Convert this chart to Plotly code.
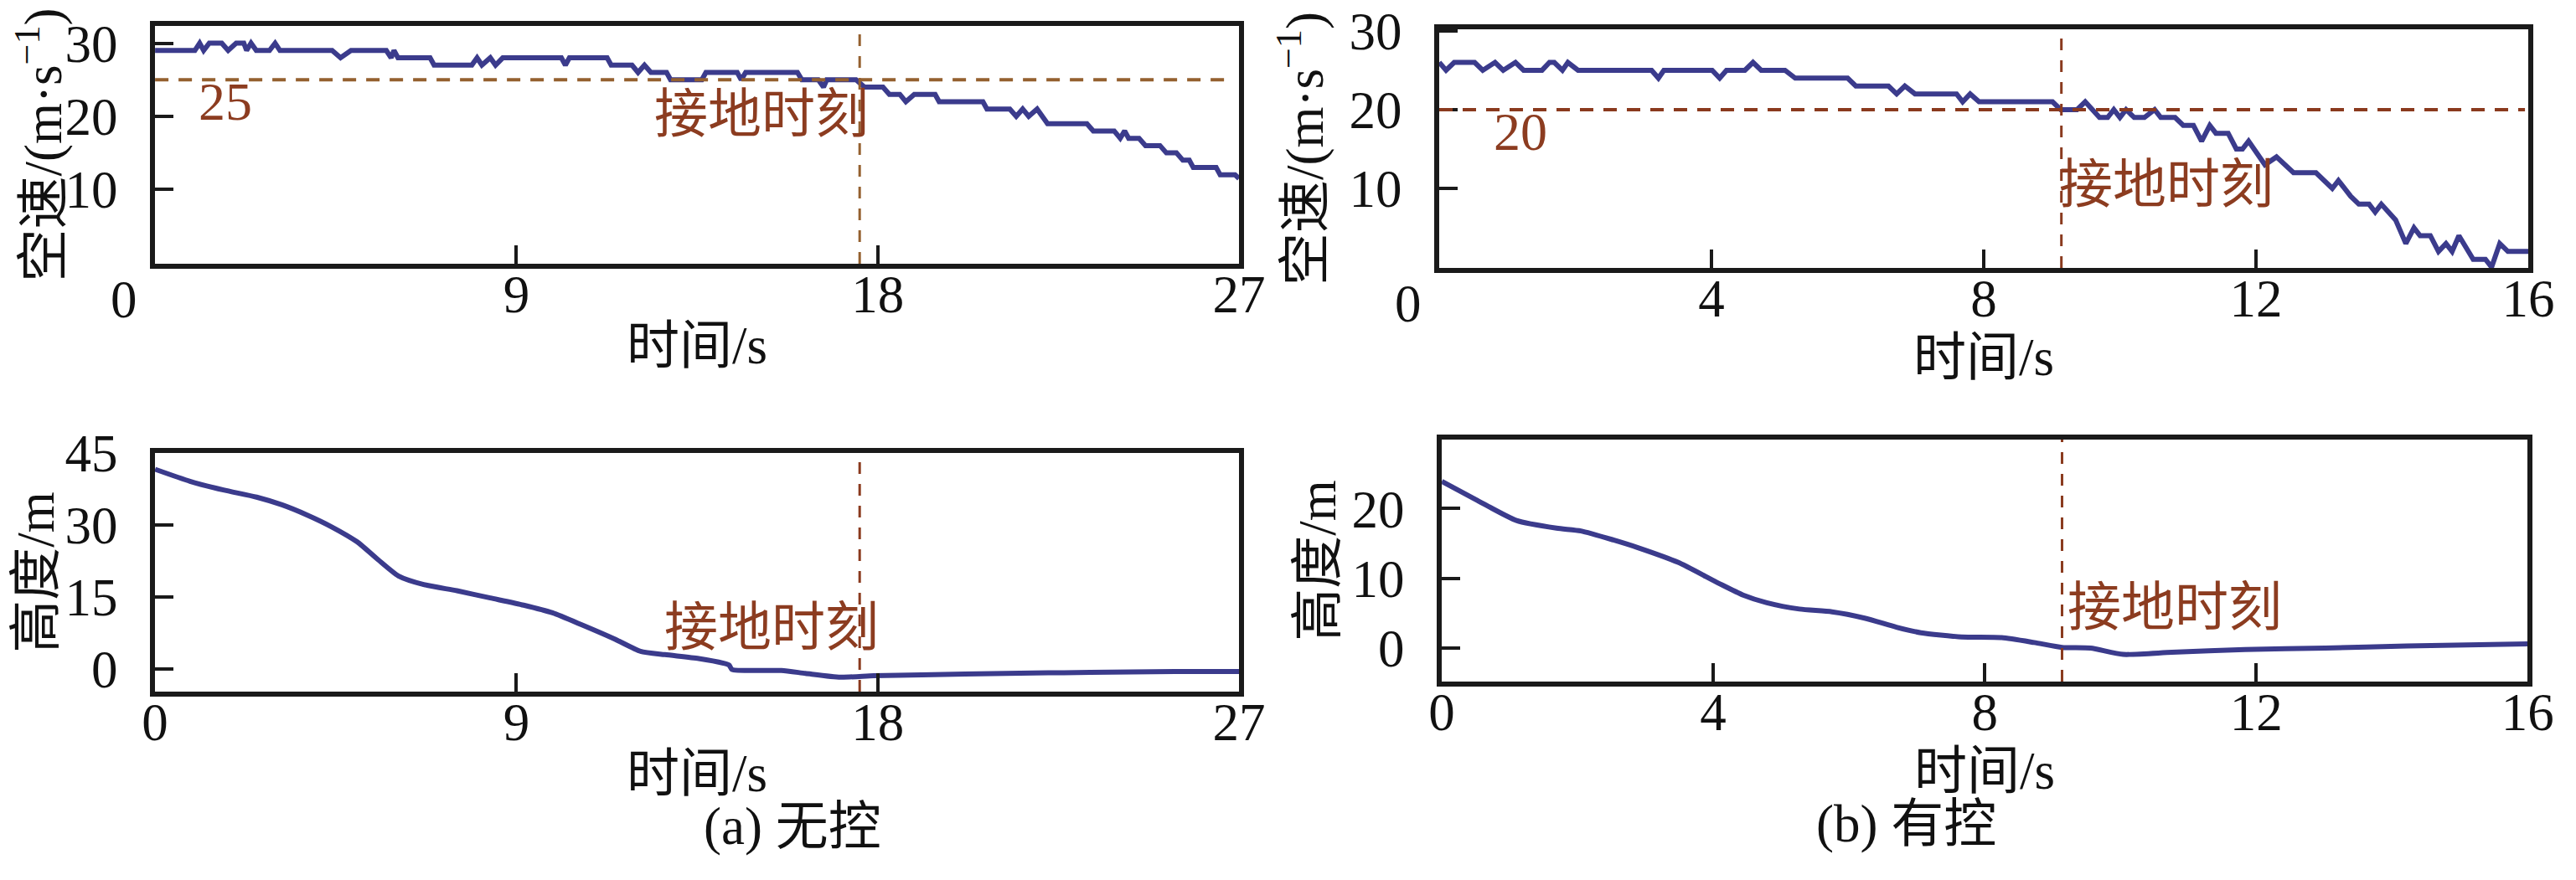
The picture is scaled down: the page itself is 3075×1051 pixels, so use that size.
import plotly.graph_objects as go

# ---- data ----
# (a) no control: airspeed
time_speed_a = [0, 0.99, 1.11, 1.21, 1.35, 1.66, 1.82, 2.02, 2.21, 2.28,
                2.39, 2.52, 2.85, 2.99, 3.11, 4.41, 4.62, 4.88, 5.76, 5.88,
                5.95, 6.05, 6.85, 6.95, 7.89, 8.02, 8.14, 8.35, 8.48, 8.66,
                10.12, 10.22, 10.32, 11.26, 11.36, 11.88, 12.03, 12.19, 12.35, 12.74,
                12.84, 13.62, 13.72, 14.50, 14.60, 14.71, 16.00, 16.11, 16.52, 16.65,
                16.73, 17.46, 17.67, 18.13, 18.29, 18.55, 18.70, 18.91, 19.43, 19.53,
                20.62, 20.72, 21.29, 21.45, 21.61, 21.76, 21.97, 22.23, 23.21, 23.37,
                23.89, 24.04, 24.15, 24.25, 24.51, 24.67, 25.03, 25.19, 25.44, 25.60,
                25.76, 25.86, 26.43, 26.53, 26.90, 27.0]
speed_a = [29, 29, 30, 29, 30, 30, 29, 30, 30, 29,
           30, 29, 29, 30, 29, 29, 28, 29, 29, 28,
           29, 28, 28, 27, 27, 28, 27, 28, 27, 28,
           28, 27, 28, 28, 27, 27, 26, 27, 26, 26,
           25, 25, 26, 26, 25, 26, 26, 25, 25, 24,
           25, 25, 24, 24, 23, 23, 22, 23, 23, 22,
           22, 21, 21, 20, 21, 20, 21, 19, 19, 18,
           18, 17, 18, 17, 17, 16, 16, 15, 15, 14,
           14, 13, 13, 12, 12, 11.5]

# (a) no control: height
time_height_a = [0, 0.87, 1.70, 2.53, 3.16, 3.78, 4.40, 5.03, 5.55, 6.06,
                 6.69, 7.52, 8.35, 9.18, 9.90, 10.63, 11.46, 12.09, 12.70, 13.54,
                 14.16, 14.30, 14.37, 15.60, 16.20, 17.07, 17.90, 19.10, 21.20, 23.30,
                 25.40, 27.00]
height_a = [41.6, 39.1, 37.3, 35.8, 34.2, 32.1, 29.6, 26.5, 22.8, 19.4,
            17.6, 16.3, 14.8, 13.3, 11.7, 9.2, 6.2, 3.7, 3.0, 2.2,
            1.2, 0.8, -0.1, -0.3, -0.9, -1.7, -1.4, -1.2, -0.9, -0.7,
            -0.5, -0.5]

# (b) with control: airspeed
time_speed_b = [0, 0.10, 0.22, 0.52, 0.64, 0.82, 0.94, 1.12, 1.24, 1.51,
                1.62, 1.69, 1.81, 1.89, 2.04, 3.12, 3.22, 3.30, 4.01, 4.12,
                4.22, 4.49, 4.61, 4.73, 5.08, 5.23, 6.00, 6.12, 6.60, 6.72,
                6.84, 6.99, 7.60, 7.69, 7.80, 7.93, 9.01, 9.13, 9.37, 9.49,
                9.70, 9.82, 9.91, 10.00, 10.09, 10.21, 10.36, 10.51, 10.60, 10.81,
                10.93, 11.08, 11.20, 11.32, 11.41, 11.59, 11.71, 11.80, 11.89, 12.04,
                12.13, 12.30, 12.43, 12.55, 12.88, 13.12, 13.21, 13.39, 13.51, 13.66,
                13.75, 13.84, 14.05, 14.20, 14.32, 14.41, 14.56, 14.68, 14.79, 14.88,
                14.98, 15.13, 15.19, 15.37, 15.46, 15.58, 15.70, 16.00]
speed_b = [26, 25, 26, 26, 25, 26, 25, 26, 25, 25,
           26, 26, 25, 26, 25, 25, 24, 25, 25, 24,
           25, 25, 26, 25, 25, 24, 24, 23, 23, 22,
           23, 22, 22, 21, 22, 21, 21, 20, 20, 21,
           19, 19, 20, 19, 20, 19, 19, 20, 19, 19,
           18, 18, 16, 18, 17, 17, 15, 15, 16, 14,
           13, 14, 13, 12, 12, 10, 11, 9, 8, 8,
           7, 8, 6, 3, 5, 4, 4, 2, 3, 2,
           4, 2, 1, 1, 0, 3, 2, 2]

# (b) with control: height
time_height_b = [0, 0.50, 1.10, 1.69, 2.05, 2.53, 2.89, 3.48, 4.08, 4.44,
                 4.79, 5.27, 5.75, 6.23, 6.70, 7.06, 7.66, 8.25, 8.73, 9.14,
                 9.56, 10.04, 10.76, 11.83, 13.02, 14.22, 16.00]
height_b = [23.9, 21.3, 18.3, 17.2, 16.8, 15.5, 14.4, 12.3, 9.3, 7.6,
            6.5, 5.6, 5.2, 4.3, 3.0, 2.2, 1.6, 1.5, 0.8, 0.1,
            0.0, -0.9, -0.6, -0.2, 0.0, 0.3, 0.6]

ground_time_a = 17.55
ground_time_b = 9.14
speed_ref_a = 25
speed_ref_b = 20

x_ticks_a = [0, 9, 18, 27]
x_ticks_b = [0, 4, 8, 12, 16]

LINE = "#3b3b8c"
DASH_A = "#94602f"
DASH_B = "#8a3a1e"
TXT = "#8c3c20"
FONT = "Liberation Serif, Noto Sans CJK SC, serif"
FS = 63

fig = go.Figure()
fig.add_trace(go.Scatter(x=time_speed_a, y=speed_a, mode="lines", xaxis="x", yaxis="y",
                         line=dict(color=LINE, width=6)))
fig.add_trace(go.Scatter(x=time_speed_b, y=speed_b, mode="lines", xaxis="x2", yaxis="y2",
                         line=dict(color=LINE, width=6)))
fig.add_trace(go.Scatter(x=time_height_a, y=height_a, mode="lines", xaxis="x3", yaxis="y3",
                         line=dict(color=LINE, width=6, shape="spline", smoothing=0.6)))
fig.add_trace(go.Scatter(x=time_height_b, y=height_b, mode="lines", xaxis="x4", yaxis="y4",
                         line=dict(color=LINE, width=6, shape="spline", smoothing=0.6)))


def xax(domain, anchor, ticks, show_zero, standoff):
    vals = ticks if show_zero else ticks[1:]
    return dict(domain=domain, anchor=anchor, range=[ticks[0], ticks[-1]],
                tickvals=vals, ticktext=[str(v) for v in vals], ticks="inside", ticklen=22,
                tickwidth=4, tickcolor="#1a1a1a", showline=True, linecolor="#1a1a1a", linewidth=6,
                mirror=True, showgrid=False, zeroline=False, automargin=False,
                ticklabelstandoff=-24, ticklabeloverflow="allow",
                tickfont=dict(family=FONT, size=FS, color="#111"),
                title=dict(text="时间/s", standoff=standoff, font=dict(family=FONT, size=FS, color="#111")))


def yax(domain, anchor, rng, tickvals, title, standoff):
    return dict(domain=domain, anchor=anchor, range=rng, tickvals=tickvals,
                ticks="inside", ticklen=22, tickwidth=4, tickcolor="#1a1a1a",
                showline=True, linecolor="#1a1a1a", linewidth=6, mirror=True,
                showgrid=False, zeroline=False, automargin=False, ticklabelstandoff=26,
                ticklabeloverflow="allow",
                tickfont=dict(family=FONT, size=FS, color="#111"),
                title=dict(text=title, standoff=standoff, font=dict(family=FONT, size=FS, color="#111")))


speed_title = "空速/(m·s<sup>−1</sup>)"
fig.update_layout(
    width=3075, height=1051, template="none",
    paper_bgcolor="white", plot_bgcolor="white", showlegend=False,
    margin=dict(l=0, r=0, t=0, b=0),
    xaxis=xax([0.0576, 0.4784], "y", x_ticks_a, False, 6),
    yaxis=yax([0.7079, 0.9781], "x", [-0.15, 32.35], [10, 20, 30], speed_title, 14),
    xaxis2=xax([0.5561, 0.9789], "y2", x_ticks_b, False, 6),
    yaxis2=yax([0.7031, 0.9743], "x2", [-0.1, 30.2], [10, 20, 30], speed_title, 12),
    xaxis3=xax([0.0576, 0.4784], "y3", x_ticks_a, True, 6),
    yaxis3=yax([0.2217, 0.4929], "x3", [-4.7, 45], [0, 15, 30, 45], "高度/m", 0),
    xaxis4=xax([0.5571, 0.9786], "y4", x_ticks_b, True, 2),
    yaxis4=yax([0.2331, 0.5081], "x4", [-4.8, 29.9], [0, 10, 20, 30], "高度/m", 0),
)

# reference dashed lines
for xr, yr, t_end, ref, col in [("x", "y", 26.7, speed_ref_a, DASH_A), ("x2", "y2", 15.95, speed_ref_b, DASH_B)]:
    fig.add_shape(type="line", xref=xr, yref=yr, x0=0, x1=t_end, y0=ref, y1=ref,
                  line=dict(color=col, width=4, dash="16px,12px"))
for xr, yr, tg, col in [("x", "y", ground_time_a, DASH_A), ("x3", "y3", ground_time_a, DASH_B),
                        ("x2", "y2", ground_time_b, DASH_B), ("x4", "y4", ground_time_b, DASH_B)]:
    fig.add_shape(type="line", xref=xr, yref=yr + " domain", x0=tg, x1=tg, y0=0, y1=1,
                  line=dict(color=col, width=3, dash="14px,12px"))

# in-plot labels
lab = dict(family=FONT, size=64, color=TXT)
fig.add_annotation(x=1.76, y=22.0, xref="x", yref="y", text=str(speed_ref_a), showarrow=False, font=lab)
fig.add_annotation(x=1.19, y=17.2, xref="x2", yref="y2", text=str(speed_ref_b), showarrow=False, font=lab)
fig.add_annotation(x=15.1, y=20.3, xref="x", yref="y", text="接地时刻", showarrow=False, font=lab)
fig.add_annotation(x=10.68, y=10.5, xref="x2", yref="y2", text="接地时刻", showarrow=False, font=lab)
fig.add_annotation(x=15.36, y=8.65, xref="x3", yref="y3", text="接地时刻", showarrow=False, font=lab)
fig.add_annotation(x=10.8, y=5.8, xref="x4", yref="y4", text="接地时刻", showarrow=False, font=lab)

# the corner "0" of the upper panels sits left of the frame
for xr, yr in [("x domain", "y domain"), ("x2 domain", "y2 domain")]:
    fig.add_annotation(x=0, y=0, xref=xr, yref=yr, text="0", showarrow=False,
                       xanchor="center", yanchor="middle", xshift=-37, yshift=-43,
                       font=dict(family=FONT, size=FS, color="#111"))

# captions
cap = dict(family=FONT, size=FS, color="#111")
fig.add_annotation(x=0.270, y=0.033, xref="paper", yref="paper", text="(a) 无控", showarrow=False, font=cap)
fig.add_annotation(x=0.773, y=0.036, xref="paper", yref="paper", text="(b) 有控", showarrow=False, font=cap)

fig.write_html("out.html")
